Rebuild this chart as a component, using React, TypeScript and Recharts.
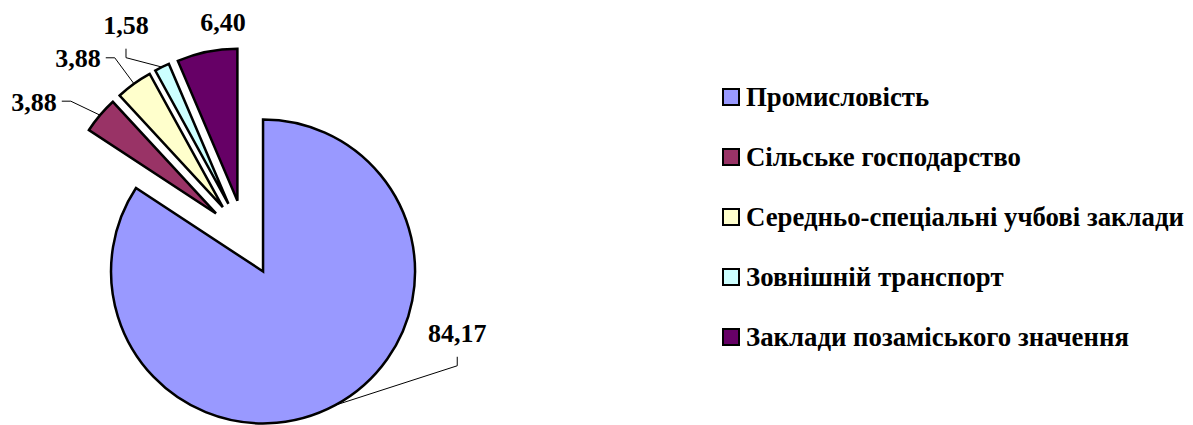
import { PieChart, Pie, Cell } from "recharts";

const CATEGORIES = [
  "Промисловість",
  "Сільське господарство",
  "Середньо-спеціальні учбові заклади",
  "Зовнішній транспорт",
  "Заклади позаміського значення",
];
const SHARES = [84.17, 3.88, 3.88, 1.58, 6.4];
const COLORS = ["#9999FF", "#993366", "#FFFFCC", "#CCFFFF", "#660066"];

// where each value label sits relative to the outer-arc midpoint of its slice
const LABEL_NUDGE: [number, number][] = [
  [122, -72],
  [-66, -13],
  [-56, -25],
  [-36, -42],
  [16, -29],
];
// leader line style per label: vertical stub, horizontal stub or none
const LEADER = ["v", "h", "h", "v", "none"];

const CX = 245;
const CY = 238;
const R = 152;
const EXPLODE = 38;
const FONT = "'Liberation Serif', 'Times New Roman', Tinos, 'DejaVu Serif', serif";
const FS = 26;
const LEGEND_FS = 26.8;
const RAD = Math.PI / 180;

const data = CATEGORIES.map((name, i) => ({ name, value: SHARES[i] }));
const total = SHARES.reduce((s, v) => s + v, 0);

// mid angle of each slice (recharts convention: degrees, ccw from 3 o'clock)
const midAngles = (() => {
  let acc = 0;
  return SHARES.map((v) => {
    const mid = 90 - ((acc + v / 2) / total) * 360;
    acc += v;
    return mid;
  });
})();

const fmt = (v: number) => v.toFixed(2).replace(".", ",");

function renderLabel(props: any) {
  const { cx, cy, midAngle, value, index } = props;
  const ax = cx + (R + EXPLODE) * Math.cos(midAngle * RAD);
  const ay = cy - (R + EXPLODE) * Math.sin(midAngle * RAD);
  const lx = ax + LABEL_NUDGE[index][0];
  const ly = ay + LABEL_NUDGE[index][1];
  const base = ly + 0.33 * FS;
  const text = fmt(value);
  const halfW = ((text.length - 1) * 0.5 + 0.25) * FS * 0.5;

  let line = null;
  if (LEADER[index] === "h") {
    const sign = lx < ax ? 1 : -1;
    const x0 = lx + sign * (halfW + 5);
    const y0 = ly - 1;
    const x1 = x0 + sign * 9;
    line = <polyline points={`${x0},${y0} ${x1},${y0} ${ax},${ay}`} fill="none" stroke="#000" strokeWidth={1} />;
  } else if (LEADER[index] === "v") {
    const y0 = base + 15;
    const y1 = y0 + 9;
    line = <polyline points={`${lx},${y0} ${lx},${y1} ${ax},${ay}`} fill="none" stroke="#000" strokeWidth={1} />;
  }

  return (
    <g>
      {line}
      <text x={lx} y={base} textAnchor="middle" fill="#000" fontFamily={FONT} fontWeight="bold" fontSize={FS}>
        {text}
      </text>
    </g>
  );
}

// legend drawn as svg text: rows 60px apart, first row centred at y=97
function SliceLegend() {
  return (
    <svg width={471} height={320} style={{ position: "absolute", left: 722, top: 67 }}>
      {CATEGORIES.map((name, i) => (
        <g key={name} transform={`translate(0, ${30 + i * 60})`}>
          <rect x={1} y={-8} width={16} height={16} fill={COLORS[i]} stroke="#000" strokeWidth={2} />
          <text
            x={24}
            y={0.33 * LEGEND_FS}
            fill="#000"
            fontFamily={FONT}
            fontWeight="bold"
            fontSize={LEGEND_FS}
          >
            {name}
          </text>
        </g>
      ))}
    </svg>
  );
}

export default function App() {
  return (
    <div style={{ position: "absolute", left: 0, top: 0, width: 1193, height: 425, background: "#fff" }}>
      <PieChart width={1193} height={425} margin={{ top: 0, right: 0, bottom: 0, left: 0 }}>
        <Pie
          data={data}
          dataKey="value"
          nameKey="name"
          cx={CX}
          cy={CY}
          outerRadius={R}
          startAngle={90}
          endAngle={-270}
          stroke="#000"
          strokeWidth={2.5}
          label={renderLabel}
          labelLine={false}
          isAnimationActive={false}
        >
          {data.map((d, i) => (
            <Cell
              key={d.name}
              fill={COLORS[i]}
              transform={`translate(${EXPLODE * Math.cos(midAngles[i] * RAD)}, ${-EXPLODE * Math.sin(midAngles[i] * RAD)})`}
            />
          ))}
        </Pie>
      </PieChart>
      <SliceLegend />
    </div>
  );
}
